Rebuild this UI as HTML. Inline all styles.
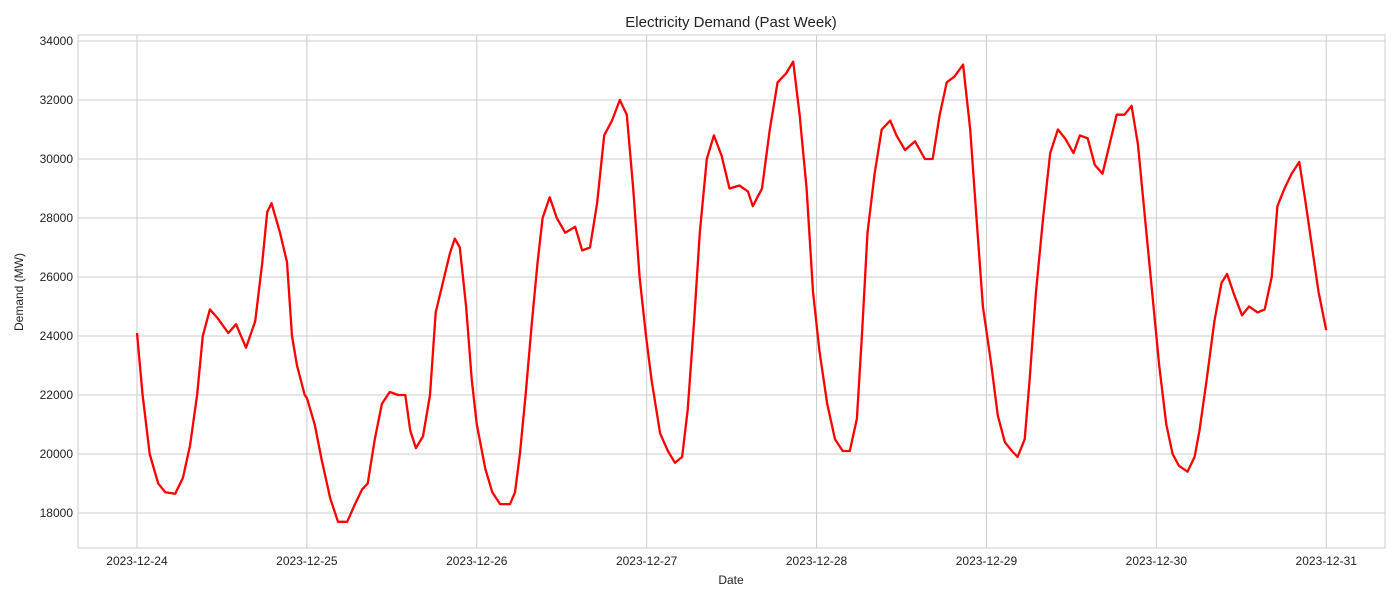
<!DOCTYPE html>
<html><head><meta charset="utf-8"><style>
body{margin:0;background:#fff;font-family:"Liberation Sans",sans-serif;}
svg text{font-family:"Liberation Sans",sans-serif;fill:#222;}
</style></head><body>
<svg id="chart" width="1400" height="600" xmlns="http://www.w3.org/2000/svg">
<text x="731" y="27" font-size="15" text-anchor="middle">Electricity Demand (Past Week)</text>
<g id="grid"></g>
<rect x="78" y="35" width="1307" height="513" fill="none" stroke="#ccc" stroke-width="1"/>
<g id="xt"></g>
<g id="yt"></g>
<text x="731" y="584" font-size="12" text-anchor="middle">Date</text>
<text transform="translate(23,292) rotate(-90)" font-size="12" text-anchor="middle">Demand (MW)</text>
<path id="line" fill="none" stroke="#ff0000" stroke-width="2.3" stroke-linejoin="round"/>
</svg>
<script>
const dateLabels=["2023-12-24","2023-12-25","2023-12-26","2023-12-27","2023-12-28","2023-12-29","2023-12-30","2023-12-31"];
const yTicks=[18000,20000,22000,24000,26000,28000,30000,32000,34000];
const hours=[0,0.8,1.8,3,4,5.4,6.5,7.5,8.5,9.3,10.3,11.4,12.9,14,15.4,16.7,17.7,18.4,19,20.2,21.2,21.9,22.6,23.7,
24,25.1,26.1,27.3,28.4,29.7,30.8,31.8,32.6,33.6,34.6,35.7,36.9,37.9,38.6,39.4,40.4,41.4,42.2,43.2,44.2,44.9,45.6,46.5,47.3,48,
49.2,50.2,51.3,52.7,53.4,54.1,54.9,55.8,56.6,57.3,58.3,59.3,60.5,61.9,62.9,64,65,66,67.1,68.2,69.2,70.1,71,71.9,
72.7,73.9,75,76,77,77.8,78.7,79.5,80.5,81.5,82.6,83.7,85.1,86.3,87,88.3,89.4,90.5,91.7,92.7,93.6,94.6,95.5,
96.4,97.5,98.6,99.7,100.7,101.7,102.4,103.2,104.2,105.2,106.4,107.3,108.5,109.9,111.3,112.4,113.4,114.4,115.5,116.7,117.7,118.6,119.5,
120.7,121.6,122.6,123.6,124.4,125.4,126.1,127,128,129,130.1,131.1,132.3,133.2,134.3,135.3,136.4,137.4,138.4,139.5,140.5,141.4,142.4,143.4,
144.4,145.4,146.3,147.2,148.4,149.4,150.1,151.1,152.2,153.2,154,155,156.1,157.1,158.3,159.3,160.3,161.1,162.1,163.1,164.2,165.1,166,166.9,168];
const demand=[24100,22000,20000,19000,18700,18650,19200,20300,22000,24000,24900,24600,24100,24400,23600,24500,26500,28200,28500,27500,26500,24000,23000,22000,
21900,21000,19800,18500,17700,17700,18300,18800,19000,20500,21700,22100,22000,22000,20800,20200,20600,22000,24800,25800,26800,27300,27000,25000,22500,21000,
19500,18700,18300,18300,18700,20000,22000,24500,26500,28000,28700,28000,27500,27700,26900,27000,28500,30800,31300,32000,31500,29000,26000,24000,
22500,20700,20100,19700,19900,21500,24500,27500,30000,30800,30100,29000,29100,28900,28400,29000,31000,32600,32900,33300,31500,29000,25500,
23500,21700,20500,20100,20100,21200,24000,27500,29500,31000,31300,30800,30300,30600,30000,30000,31500,32600,32800,33200,31000,28000,25000,
23000,21300,20400,20100,19900,20500,22500,25500,28000,30200,31000,30700,30200,30800,30700,29800,29500,30500,31500,31500,31800,30500,28000,25500,
23000,21000,20000,19600,19400,19900,20800,22500,24500,25800,26100,25400,24700,25000,24800,24900,26000,28400,29000,29500,29900,28500,27000,25500,24200];
const NS="http://www.w3.org/2000/svg";
const X0=78,X1=1385,Y0=548,Y1=35;
const hMin=-8.33,hMax=176.3,vMin=16813,vMax=34203;
function xs(h){return X0+(h-hMin)/(hMax-hMin)*(X1-X0);}
function ys(v){return Y0-(v-vMin)/(vMax-vMin)*(Y0-Y1);}
const grid=document.getElementById('grid'),xt=document.getElementById('xt'),yt=document.getElementById('yt');
function mk(tag,attrs,parent){const e=document.createElementNS(NS,tag);for(const k in attrs)e.setAttribute(k,attrs[k]);parent.appendChild(e);return e;}
dateLabels.forEach((d,i)=>{const x=xs(i*24);
 const g=mk('line',{x1:x,x2:x,y1:Y1,y2:Y0,stroke:'#cccccc','stroke-width':1},grid);
 
 
 const t=mk('text',{x:x,y:Y0+17,'font-size':12,'text-anchor':'middle'},xt);t.textContent=d;
 
 
});
yTicks.forEach(v=>{const y=ys(v);
 const g=mk('line',{x1:X0,x2:X1,y1:y,y2:y,stroke:'#cccccc','stroke-width':1},grid);
 
 
 const t=mk('text',{x:X0-5,y:y+4,'font-size':12,'text-anchor':'end'},yt);t.textContent=v;
 
 
});
document.getElementById('line').setAttribute('d',hours.map((h,i)=>(i?'L':'M')+xs(h).toFixed(1)+','+ys(demand[i]).toFixed(1)).join(''));
</script>
</body></html>
